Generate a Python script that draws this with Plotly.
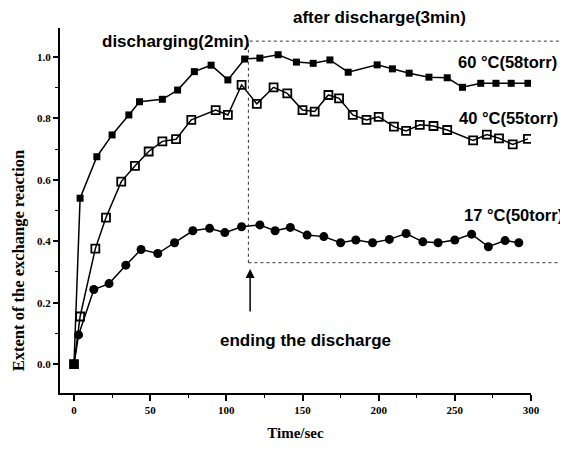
import plotly.graph_objects as go

# ---- data ----
t60 = [0, 4, 15, 25, 36, 43, 58, 68, 79, 90, 101, 112, 122, 134, 146, 157, 168, 180,
       199, 209, 220, 233, 245, 255, 267, 277, 287, 298]
y60 = [0.0, 0.54, 0.675, 0.746, 0.811, 0.854, 0.862, 0.892, 0.952, 0.973, 0.925, 0.993,
       0.996, 1.007, 0.983, 0.979, 0.990, 0.950, 0.974, 0.961, 0.947, 0.934, 0.932, 0.901,
       0.914, 0.914, 0.914, 0.914]

t40 = [0, 4, 14, 21, 31, 40, 49, 58, 67, 77, 93, 101, 110, 120, 131, 140, 150, 158, 167,
       174, 183, 192, 200, 210, 218, 227, 236, 245, 262, 271, 279, 288, 298]
y40 = [0.0, 0.155, 0.376, 0.477, 0.594, 0.645, 0.692, 0.725, 0.732, 0.795, 0.827, 0.811,
       0.909, 0.847, 0.901, 0.881, 0.827, 0.822, 0.876, 0.865, 0.811, 0.795, 0.805, 0.773,
       0.759, 0.779, 0.775, 0.762, 0.728, 0.747, 0.735, 0.715, 0.733]

t17 = [0, 3, 13, 23, 34, 44, 55, 66, 78, 89, 99, 110, 122, 132, 142, 153, 164, 175, 185,
       196, 207, 218, 229, 239, 250, 261, 272, 283, 292]
y17 = [0.0, 0.095, 0.243, 0.262, 0.322, 0.373, 0.360, 0.395, 0.434, 0.442, 0.428, 0.447,
       0.453, 0.434, 0.445, 0.420, 0.415, 0.395, 0.404, 0.395, 0.406, 0.425, 0.398, 0.395,
       0.404, 0.423, 0.382, 0.402, 0.395]

x_ticks = [0, 50, 100, 150, 200, 250, 300]
y_ticks = [0.0, 0.2, 0.4, 0.6, 0.8, 1.0]
y_tick_text = ["0.0", "0.2", "0.4", "0.6", "0.8", "1.0"]

BLACK = "#000000"
SANS = "Liberation Sans"
SERIF = "Liberation Serif"

fig = go.Figure()
fig.add_trace(go.Scatter(x=t60, y=y60, mode="lines+markers", name="60C",
                         line=dict(color=BLACK, width=1.5),
                         marker=dict(symbol="square", size=7, color=BLACK)))
fig.add_trace(go.Scatter(x=t40, y=y40, mode="lines+markers", name="40C",
                         line=dict(color=BLACK, width=1.5),
                         marker=dict(symbol="square-open", size=8, color=BLACK,
                                     line=dict(width=1.8))))
fig.add_trace(go.Scatter(x=t17, y=y17, mode="lines+markers", name="17C",
                         line=dict(color=BLACK, width=1.5),
                         marker=dict(symbol="circle", size=9, color=BLACK)))

ann_font = dict(family=SANS, size=17, color=BLACK, weight="bold")
lab_font = dict(family=SANS, size=16.5, color=BLACK, weight="bold")
annotations = [
    dict(x=0.405, y=0.964, xref="paper", yref="paper", text="discharging(2min)",
         showarrow=False, xanchor="right", yanchor="middle", font=ann_font),
    dict(x=0.679, y=1.030, xref="paper", yref="paper", text="after discharge(3min)",
         showarrow=False, xanchor="center", yanchor="middle", font=ann_font),
    dict(x=250.5, y=0.984, xref="x", yref="y", text="60 °C(58torr)", showarrow=False,
         xanchor="left", yanchor="middle", font=lab_font),
    dict(x=251.5, y=0.801, xref="x", yref="y", text="40 °C(55torr)", showarrow=False,
         xanchor="left", yanchor="middle", font=lab_font),
    dict(x=254.5, y=0.485, xref="x", yref="y", text="17 °C(50torr)", showarrow=False,
         xanchor="left", yanchor="middle", font=lab_font),
    dict(x=152, y=0.078, xref="x", yref="y", text="ending the discharge", showarrow=False,
         xanchor="center", yanchor="middle", font=ann_font),
    dict(x=115.6, y=0.310, xref="x", yref="y", ax=115.6, ay=0.166, axref="x", ayref="y",
         text="", showarrow=True, arrowhead=2, arrowsize=1.2, arrowwidth=1.5,
         arrowcolor=BLACK),
    dict(x=-0.089, y=0.364, xref="paper", yref="paper", text="Extent of the exchange reaction",
         textangle=-90, showarrow=False, xanchor="center", yanchor="middle",
         font=dict(family=SERIF, size=16.5, color=BLACK, weight="bold")),
]

dot = dict(color="#333333", width=1, dash="dot")
shapes = [
    dict(type="line", xref="paper", yref="paper", x0=0.403, x1=1.072, y0=0.964, y1=0.964, line=dot),
    dict(type="line", xref="paper", yref="paper", x0=0.400, x1=1.072, y0=0.357, y1=0.357, line=dot),
    dict(type="line", xref="paper", yref="paper", x0=0.400, x1=0.400, y0=0.357, y1=0.964, line=dot),
]

tick_font = dict(family=SERIF, size=11, color=BLACK, weight="bold")
fig.update_layout(
    template="none",
    width=560, height=448,
    margin=dict(l=52, r=37, t=20, b=63, autoexpand=False),
    paper_bgcolor="white", plot_bgcolor="white",
    showlegend=False,
    annotations=annotations,
    shapes=shapes,
    xaxis=dict(range=[-9.2, 300], tickvals=x_ticks, ticks="outside", ticklen=6,
               tickwidth=1.5, tickcolor=BLACK, showline=True, linecolor=BLACK, linewidth=2,
               showgrid=False, zeroline=False, tickfont=tick_font, automargin=False,
               minor=dict(dtick=25, tick0=0, ticks="outside", ticklen=3, tickwidth=1.2,
                          tickcolor=BLACK, showgrid=False),
               title=dict(text="Time/sec", standoff=12,
                          font=dict(family=SERIF, size=15, color=BLACK, weight="bold"))),
    yaxis=dict(range=[-0.094, 1.094], tickvals=y_ticks, ticktext=y_tick_text,
               ticks="outside", ticklen=5, tickwidth=1.5, tickcolor=BLACK, showline=True,
               linecolor=BLACK, linewidth=2, showgrid=False, zeroline=False,
               tickfont=tick_font, automargin=False,
               minor=dict(dtick=0.1, tick0=0, ticks="outside", ticklen=3, tickwidth=1.2,
                          tickcolor=BLACK, showgrid=False)),
)

fig.write_html("out.html")
